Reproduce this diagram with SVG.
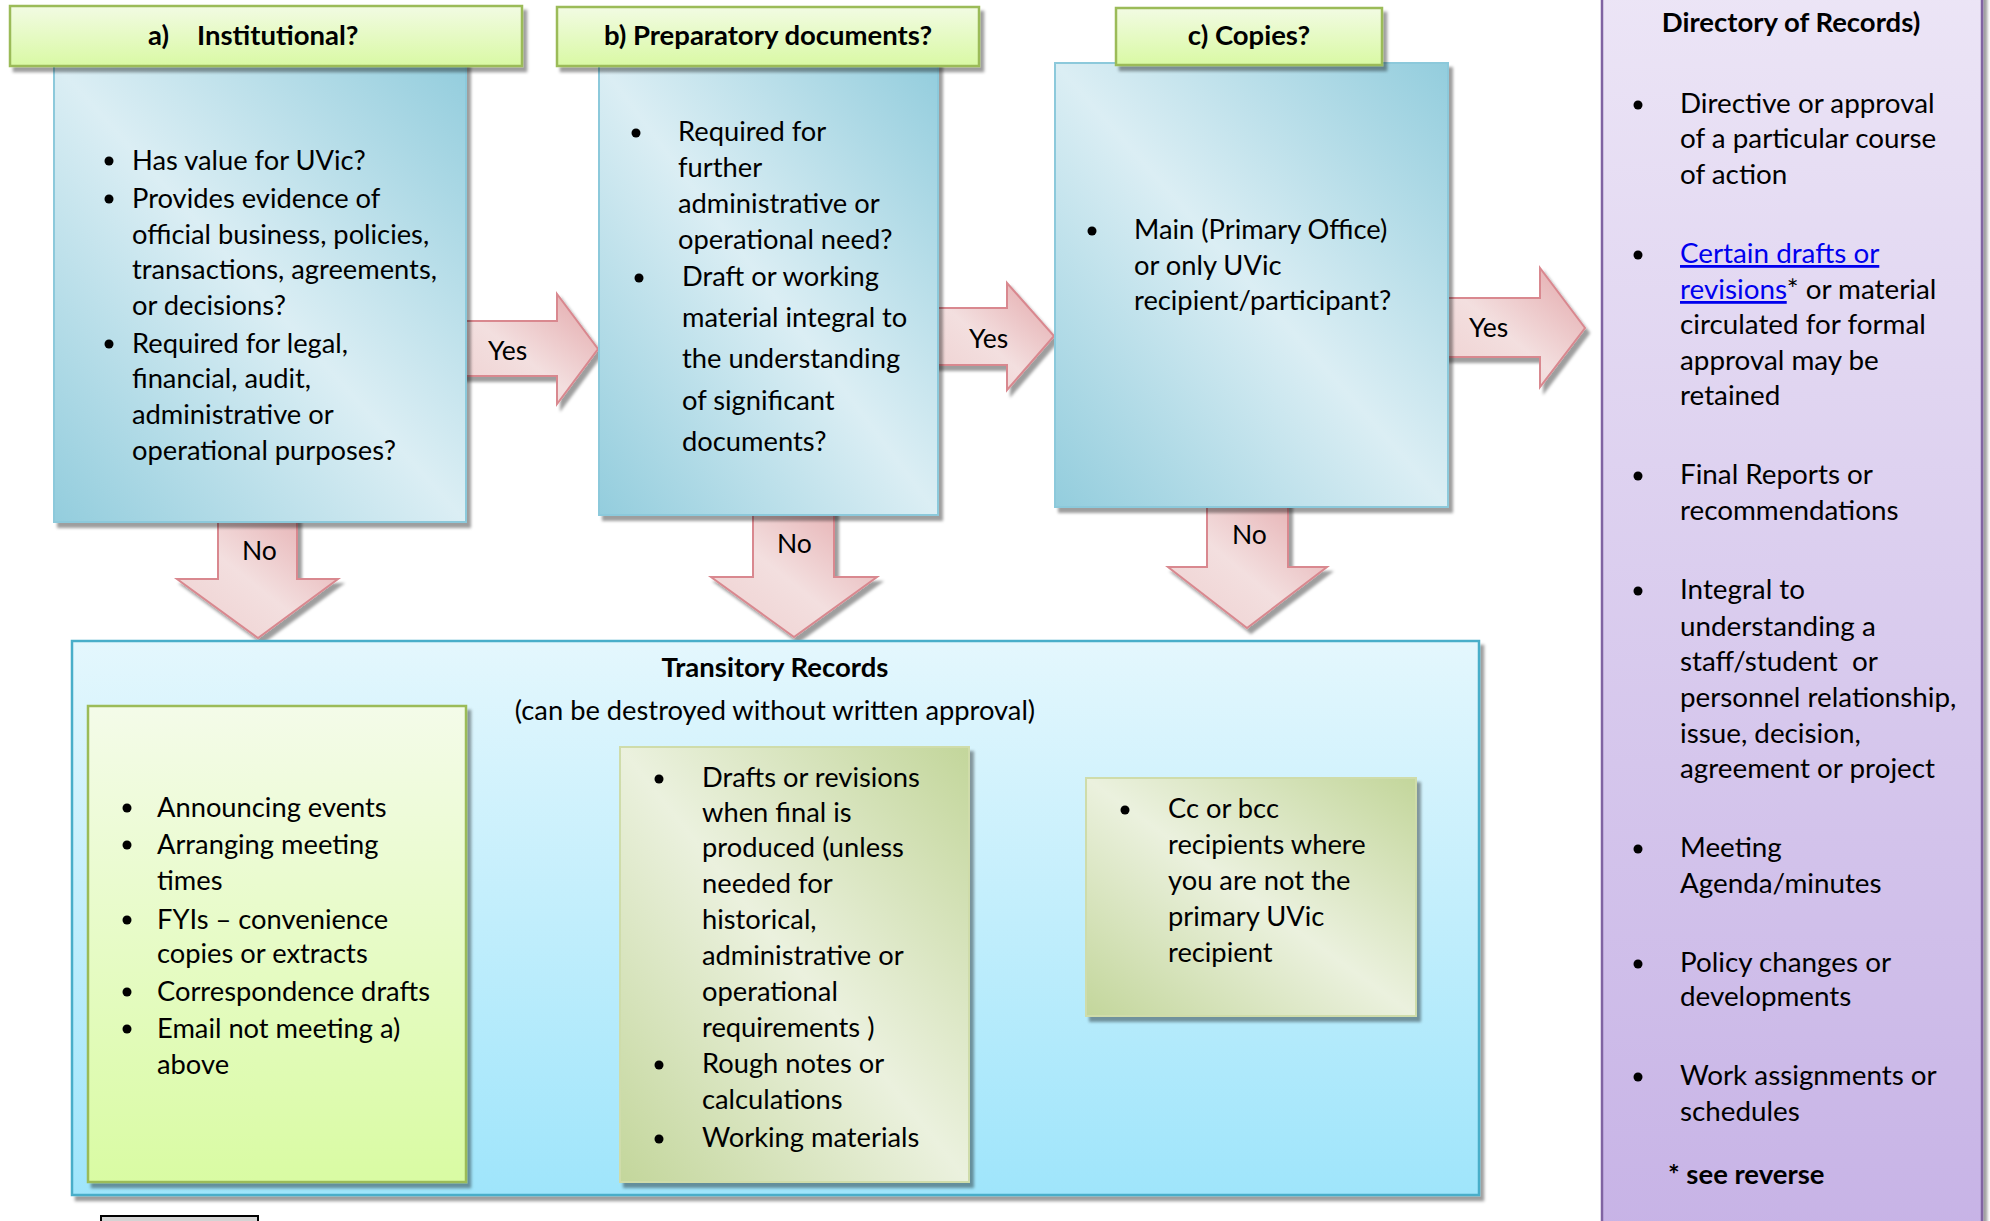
<svg xmlns="http://www.w3.org/2000/svg" width="1990" height="1221" viewBox="0 0 1990 1221">
<style>
  .t { font-family: Lato, "Open Sans", "Liberation Sans", sans-serif; font-size: 27.3px; fill: #000; }
  .b { font-family: Lato, "Open Sans", "Liberation Sans", sans-serif; font-size: 27.5px; font-weight: bold; fill: #000; }
  .lbl { font-family: Lato, "Open Sans", "Liberation Sans", sans-serif; font-size: 26.5px; fill: #000; }
  .pt { font-family: Lato, "Open Sans", "Liberation Sans", sans-serif; font-size: 27.8px; fill: #000; }
  .blue { fill: url(#blueGrad); stroke: #8cc9db; stroke-width: 2; filter: url(#sh); }
  .hdr { fill: url(#hdrGrad); stroke: #9bbb59; stroke-width: 2.5; filter: url(#sh); }
  .arrow { fill: url(#pinkGrad); stroke: #d9888f; stroke-width: 2; filter: url(#sh); }
  .g2 { fill: url(#g2Grad); stroke: #cfdcaa; stroke-width: 2; filter: url(#sh); }
  .dot { fill: #000; }
  .link { fill: #0000ee; text-decoration: underline; }
</style>
<defs>
  <filter id="sh" x="-10%" y="-10%" width="125%" height="125%">
    <feDropShadow dx="4" dy="5" stdDeviation="1.5" flood-color="#000" flood-opacity="0.38"/>
  </filter>
  <linearGradient id="blueGrad" x1="0" y1="1" x2="1" y2="0">
    <stop offset="0" stop-color="#93cddd"/>
    <stop offset="0.5" stop-color="#dbeef4"/>
    <stop offset="1" stop-color="#93cddd"/>
  </linearGradient>
  <linearGradient id="hdrGrad" x1="0" y1="0" x2="0" y2="1">
    <stop offset="0" stop-color="#f2fbe3"/>
    <stop offset="1" stop-color="#d9f9a4"/>
  </linearGradient>
  <linearGradient id="pinkGrad" x1="0" y1="1" x2="1" y2="0">
    <stop offset="0" stop-color="#eecfcf"/>
    <stop offset="0.45" stop-color="#f3dfdf"/>
    <stop offset="1" stop-color="#e3a6a9"/>
  </linearGradient>
  <linearGradient id="transGrad" x1="0" y1="0" x2="0" y2="1">
    <stop offset="0" stop-color="#e4f7fd"/>
    <stop offset="1" stop-color="#9fe5fb"/>
  </linearGradient>
  <linearGradient id="g1Grad" x1="0" y1="0" x2="0" y2="1">
    <stop offset="0" stop-color="#f4fbe9"/>
    <stop offset="1" stop-color="#d9fba3"/>
  </linearGradient>
  <linearGradient id="g2Grad" x1="0" y1="1" x2="1" y2="0">
    <stop offset="0" stop-color="#c3d69b"/>
    <stop offset="0.5" stop-color="#ebf1de"/>
    <stop offset="1" stop-color="#c3d69b"/>
  </linearGradient>
  <linearGradient id="purpleGrad" x1="0" y1="0" x2="0" y2="1">
    <stop offset="0" stop-color="#ece5f6"/>
    <stop offset="1" stop-color="#c7b3e6"/>
  </linearGradient>
</defs>

<!-- Directory of Records (purple) -->
<g id="directory">
  <rect x="1602" y="-10" width="380" height="1245" fill="url(#purpleGrad)" stroke="#8064a2" stroke-width="2.5" filter="url(#sh)"/>
  <text class="b" x="1791" y="32" text-anchor="middle">Directory of Records)</text>
  <circle class="dot" cx="1638" cy="105" r="4.5"/>
  <text class="pt" x="1680" y="113">Directive or approval</text>
  <text class="pt" x="1680" y="148">of a particular course</text>
  <text class="pt" x="1680" y="184">of action</text>
  <circle class="dot" cx="1638" cy="255" r="4.5"/>
  <text class="pt" x="1680" y="263"><tspan class="link">Certain drafts or</tspan></text>
  <text class="pt" x="1680" y="299"><tspan class="link">revisions</tspan>* or material</text>
  <text class="pt" x="1680" y="334">circulated for formal</text>
  <text class="pt" x="1680" y="370">approval may be</text>
  <text class="pt" x="1680" y="405">retained</text>
  <circle class="dot" cx="1638" cy="476" r="4.5"/>
  <text class="pt" x="1680" y="484">Final Reports or</text>
  <text class="pt" x="1680" y="520">recommendations</text>
  <circle class="dot" cx="1638" cy="591" r="4.5"/>
  <text class="pt" x="1680" y="599">Integral to</text>
  <text class="pt" x="1680" y="636">understanding a</text>
  <text class="pt" x="1680" y="671" xml:space="preserve">staff/student  or</text>
  <text class="pt" x="1680" y="707">personnel relationship,</text>
  <text class="pt" x="1680" y="743">issue, decision,</text>
  <text class="pt" x="1680" y="778">agreement or project</text>
  <circle class="dot" cx="1638" cy="849" r="4.5"/>
  <text class="pt" x="1680" y="857">Meeting</text>
  <text class="pt" x="1680" y="893">Agenda/minutes</text>
  <circle class="dot" cx="1638" cy="964" r="4.5"/>
  <text class="pt" x="1680" y="972">Policy changes or</text>
  <text class="pt" x="1680" y="1006">developments</text>
  <circle class="dot" cx="1638" cy="1077" r="4.5"/>
  <text class="pt" x="1680" y="1085">Work assignments or</text>
  <text class="pt" x="1680" y="1121">schedules</text>
  <text class="b" x="1668" y="1184">* see reverse</text>
</g>

<!-- Connectors -->
<g id="connectors">
  <g id="yes-a-b">
    <path class="arrow" d="M 455 321 H 557 V 294 L 598 349 L 557 404 V 376 H 455 Z"/>
    <text class="lbl" x="488" y="360">Yes</text>
  </g>
  <g id="yes-b-c">
    <path class="arrow" d="M 930 308 H 1007 V 283 L 1054 336 L 1007 390 V 365 H 930 Z"/>
    <text class="lbl" x="969" y="348">Yes</text>
  </g>
  <g id="yes-c-dir">
    <path class="arrow" d="M 1440 298 H 1540 V 268 L 1585 328 L 1540 387 V 357 H 1440 Z"/>
    <text class="lbl" x="1469" y="337">Yes</text>
  </g>
  <g id="no-a">
    <path class="arrow" d="M 218 510 V 579 H 177 L 258 638 L 338 579 H 297 V 510 Z"/>
    <text class="lbl" x="242" y="560">No</text>
  </g>
  <g id="no-b">
    <path class="arrow" d="M 753 505 V 577 H 711 L 794 637 L 877 577 H 834 V 505 Z"/>
    <text class="lbl" x="777" y="553">No</text>
  </g>
  <g id="no-c">
    <path class="arrow" d="M 1207 497 V 567 H 1168 L 1247 628 L 1327 567 H 1288 V 497 Z"/>
    <text class="lbl" x="1232" y="544">No</text>
  </g>
</g>

<!-- a) Institutional -->
<g id="box-a">
  <rect class="blue" x="54" y="62" width="412" height="460"/>
  <circle class="dot" cx="109" cy="161" r="4.5"/>
  <text class="t" x="132" y="170">Has value for UVic?</text>
  <circle class="dot" cx="109" cy="199" r="4.5"/>
  <text class="t" x="132" y="208">Provides evidence of</text>
  <text class="t" x="132" y="244">official business, policies,</text>
  <text class="t" x="132" y="279">transactions, agreements,</text>
  <text class="t" x="132" y="315">or decisions?</text>
  <circle class="dot" cx="109" cy="344" r="4.5"/>
  <text class="t" x="132" y="353">Required for legal,</text>
  <text class="t" x="132" y="388">financial, audit,</text>
  <text class="t" x="132" y="424">administrative or</text>
  <text class="t" x="132" y="460">operational purposes?</text>
</g>
<g id="header-a">
  <rect class="hdr" x="10" y="6" width="512" height="60"/>
  <text class="b" x="148" y="45">a)</text>
  <text class="b" x="197" y="45">Institutional?</text>
</g>

<!-- b) Preparatory documents -->
<g id="box-b">
  <rect class="blue" x="599" y="62" width="339" height="453"/>
  <circle class="dot" cx="636" cy="133" r="4.5"/>
  <text class="t" x="678" y="141">Required for</text>
  <text class="t" x="678" y="177">further</text>
  <text class="t" x="678" y="213">administrative or</text>
  <text class="t" x="678" y="249">operational need?</text>
  <circle class="dot" cx="639" cy="278" r="4.5"/>
  <text class="t" x="682" y="286">Draft or working</text>
  <text class="t" x="682" y="327">material integral to</text>
  <text class="t" x="682" y="368">the understanding</text>
  <text class="t" x="682" y="410">of significant</text>
  <text class="t" x="682" y="451">documents?</text>
</g>
<g id="header-b">
  <rect class="hdr" x="557" y="7" width="422" height="59"/>
  <text class="b" x="768" y="45" text-anchor="middle">b) Preparatory documents?</text>
</g>

<!-- c) Copies -->
<g id="box-c">
  <rect class="blue" x="1055" y="63" width="393" height="444"/>
  <circle class="dot" cx="1092" cy="231" r="4.5"/>
  <text class="t" x="1134" y="239">Main (Primary Office)</text>
  <text class="t" x="1134" y="275">or only UVic</text>
  <text class="t" x="1134" y="310">recipient/participant?</text>
</g>
<g id="header-c">
  <rect class="hdr" x="1116" y="8" width="266" height="57"/>
  <text class="b" x="1249" y="45" text-anchor="middle">c) Copies?</text>
</g>

<!-- Transitory Records -->
<g id="transitory">
  <rect x="72" y="641" width="1407" height="554" fill="url(#transGrad)" stroke="#4aaec9" stroke-width="2.5" filter="url(#sh)"/>
  <text class="b" x="775" y="677" text-anchor="middle">Transitory Records</text>
  <text class="t" x="775" y="720" text-anchor="middle">(can be destroyed without written approval)</text>
</g>

<g id="trans-general">
  <rect x="88" y="706" width="378" height="476" fill="url(#g1Grad)" stroke="#9bbb59" stroke-width="2.5" filter="url(#sh)"/>
  <circle class="dot" cx="127" cy="808" r="4.5"/>
  <text class="t" x="157" y="817">Announcing events</text>
  <circle class="dot" cx="127" cy="845" r="4.5"/>
  <text class="t" x="157" y="854">Arranging meeting</text>
  <text class="t" x="157" y="890">times</text>
  <circle class="dot" cx="127" cy="920" r="4.5"/>
  <text class="t" x="157" y="929">FYIs – convenience</text>
  <text class="t" x="157" y="963">copies or extracts</text>
  <circle class="dot" cx="127" cy="992" r="4.5"/>
  <text class="t" x="157" y="1001">Correspondence drafts</text>
  <circle class="dot" cx="127" cy="1029" r="4.5"/>
  <text class="t" x="157" y="1038">Email not meeting a)</text>
  <text class="t" x="157" y="1074">above</text>
</g>

<g id="trans-preparatory">
  <rect class="g2" x="620" y="747" width="349" height="435"/>
  <circle class="dot" cx="659" cy="779" r="4.5"/>
  <text class="t" x="702" y="787">Drafts or revisions</text>
  <text class="t" x="702" y="822">when final is</text>
  <text class="t" x="702" y="857">produced (unless</text>
  <text class="t" x="702" y="893">needed for</text>
  <text class="t" x="702" y="929">historical,</text>
  <text class="t" x="702" y="965">administrative or</text>
  <text class="t" x="702" y="1001">operational</text>
  <text class="t" x="702" y="1037">requirements )</text>
  <circle class="dot" cx="659" cy="1065" r="4.5"/>
  <text class="t" x="702" y="1073">Rough notes or</text>
  <text class="t" x="702" y="1109">calculations</text>
  <circle class="dot" cx="659" cy="1139" r="4.5"/>
  <text class="t" x="702" y="1147">Working materials</text>
</g>

<g id="trans-copies">
  <rect class="g2" x="1086" y="778" width="330" height="238"/>
  <circle class="dot" cx="1125" cy="810" r="4.5"/>
  <text class="t" x="1168" y="818">Cc or bcc</text>
  <text class="t" x="1168" y="854">recipients where</text>
  <text class="t" x="1168" y="890">you are not the</text>
  <text class="t" x="1168" y="926">primary UVic</text>
  <text class="t" x="1168" y="962">recipient</text>
</g>

<g id="footer-logo">
  <rect x="101" y="1216" width="157" height="20" fill="#d4d4d4" stroke="#000" stroke-width="2"/>
</g>
</svg>
